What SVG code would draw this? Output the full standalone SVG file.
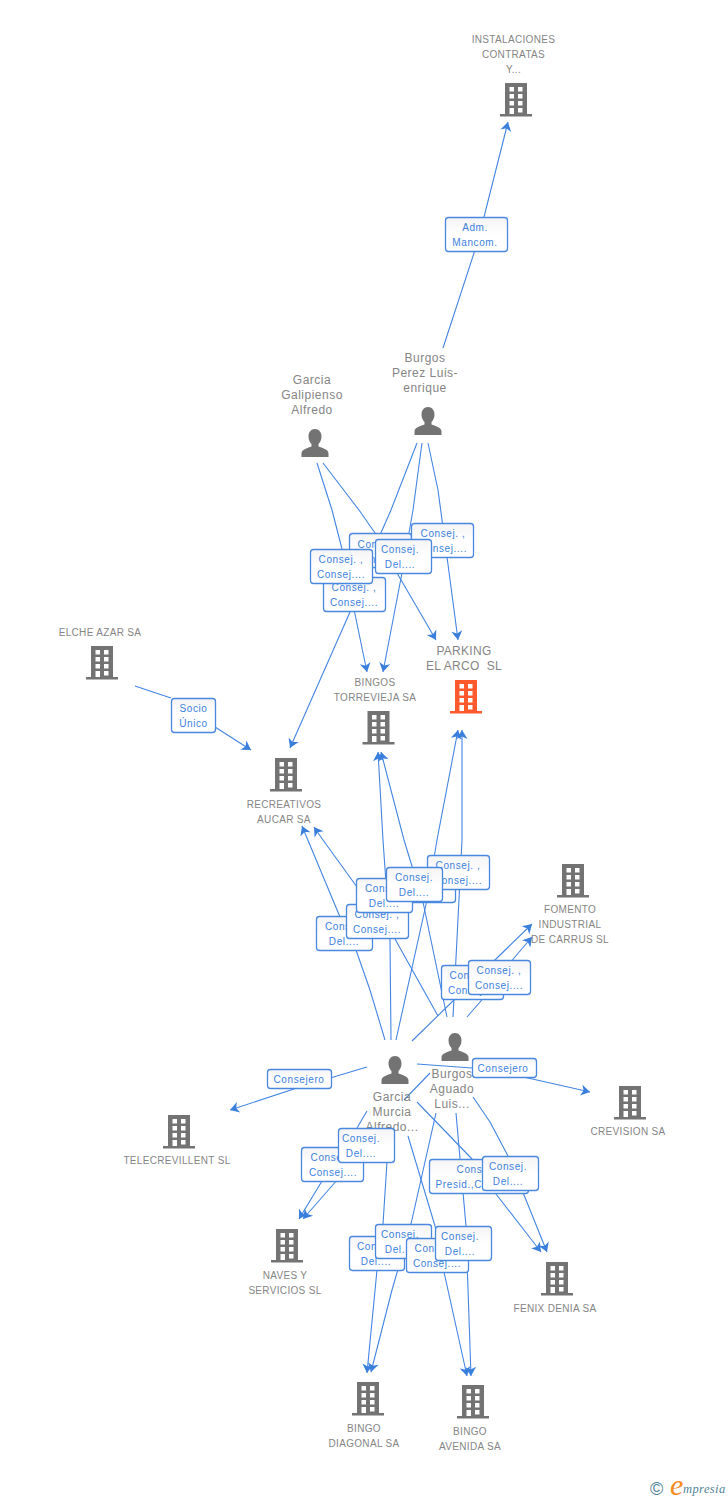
<svg xmlns="http://www.w3.org/2000/svg" width="728" height="1500" viewBox="0 0 728 1500">
<style>
text{font-family:"Liberation Sans",Arial,sans-serif}
.n{font-size:10px;fill:#858585;text-anchor:middle;letter-spacing:.33px}
.p{font-size:12px;fill:#858585;text-anchor:middle;letter-spacing:.5px}
.l{font-size:10px;fill:#3b7fdd;text-anchor:middle;letter-spacing:.6px}
.b{fill:url(#g);stroke:#4a88e0;stroke-width:1.3}
#connectors path{fill:none;stroke:#4485e2;stroke-width:1.1;stroke-linejoin:round;marker-end:url(#a)}
#connectors path.s{marker-end:none}
</style>
<defs>
<linearGradient id="g" x1="0" y1="0" x2="0" y2="1"><stop offset="0" stop-color="#f4f4f4"/><stop offset=".5" stop-color="#fff"/><stop offset="1" stop-color="#fff"/></linearGradient>
<marker id="a" markerUnits="userSpaceOnUse" markerWidth="12" markerHeight="12" viewBox="0 -6 10 12" refX="9" refY="0" orient="auto"><path d="M9 0L0-5.500 2.500 0 0 5.500Z" fill="#3b7fdd"/></marker>
<g id="bld"><path fill-rule="evenodd" d="M-11 0H11V32H-11ZM-6.500 4V8.500H-2V4ZM2 4V8.500H6.500V4ZM-6.500 11V15.500H-2V11ZM2 11V15.500H6.500V11ZM-6.500 18V22.500H-2V18ZM2 18V22.500H6.500V18ZM-6.500 25V32H-2V25ZM2 25V29.500H6.500V25Z"/><rect x="-16" y="31" width="32" height="2.500"/></g>
<path id="per" d="M0 0C4 0 6.500 3.200 6.500 7.500C6.500 11 5 13.500 3.500 15V17.500C7 19 13.500 20 13.500 24.500V28H-13.500V24.500C-13.500 20 -7 19 -3.500 17.500V15C-5 13.500 -6.500 11 -6.500 7.500C-6.500 3.200 -4 0 0 0Z"/>
</defs>
<rect width="728" height="1500" fill="#fff"/>
<g id="connectors">
<path d="M443 348L475 250L484 217L508 122"/>
<path class="s" d="M135 686L171 698"/><path d="M215 727L251 750"/>
<path d="M317 463L332 510L342 549L350 590L367 672"/>
<path d="M323 463L359 510L375 533L397 573L436 640"/>
<path d="M417 443L391 510L380 535L350 612L290 748"/>
<path d="M422 443L413 510L402 573L383 672"/>
<path d="M428 443L438 490L447 557L458 640"/>
<path d="M385 1040L370 990L356 950L340 917L302 826"/>
<path d="M391 1040L390 940L383 840L378 752"/>
<path d="M396 1040L427 900L437 840L458 730"/>
<path d="M412 1041L455 999L497 958L532 924"/>
<path d="M438 1016L395 939L357 887L323 840L314 827"/>
<path d="M447 1017L423 902L404 840L381 752"/>
<path d="M453 1017L462 840L462 730"/>
<path d="M467 1017L487 994L514 958L532 937"/>
<path d="M367 1067L300 1087L230 1110"/>
<path d="M417 1064L472 1068L528 1078L590 1092"/>
<path class="s" d="M430 1073L404 1100"/>
<path class="s" d="M367 1111L357 1128"/>
<path d="M322 1181L299 1219"/>
<path d="M352 1163L303 1219"/>
<path d="M387 1162L383 1224L377 1270L367 1373"/>
<path d="M408 1136L435 1226L444 1272L467 1376"/>
<path d="M436 1113L411 1224L392 1290L371 1372"/>
<path d="M456 1113L466 1226L467 1260L471 1376"/>
<path d="M417 1102L472 1159L496 1194L541 1252"/>
<path d="M473 1097L490 1122L508 1156L522 1190L547 1252"/>
</g>
<g fill="#737373">
<g id="n-instalaciones"><use href="#bld" x="516" y="83"/><text class="n"><tspan x="513.500" y="43">INSTALACIONES</tspan><tspan x="513.500" y="58">CONTRATAS</tspan><tspan x="513.500" y="73">Y...</tspan></text></g>
<g id="n-parking"><use href="#bld" x="466" y="680" fill="#ff5a2d"/><text class="p" style="letter-spacing:.3px"><tspan x="464" y="655">PARKING</tspan><tspan x="464" y="670">EL ARCO&#160; SL</tspan></text></g>
<g id="n-bingos-torrevieja"><use href="#bld" x="378.500" y="711"/><text class="n"><tspan x="375" y="686">BINGOS</tspan><tspan x="375" y="701">TORREVIEJA SA</tspan></text></g>
<g id="n-elche"><use href="#bld" x="102" y="646"/><text class="n" x="100" y="636">ELCHE AZAR SA</text></g>
<g id="n-recreativos"><use href="#bld" x="286" y="758"/><text class="n"><tspan x="284" y="808">RECREATIVOS</tspan><tspan x="284" y="823">AUCAR SA</tspan></text></g>
<g id="n-fomento"><use href="#bld" x="573" y="864"/><text class="n"><tspan x="570" y="913">FOMENTO</tspan><tspan x="570" y="928">INDUSTRIAL</tspan><tspan x="570" y="943">DE CARRUS SL</tspan></text></g>
<g id="n-crevision"><use href="#bld" x="630" y="1086"/><text class="n" x="628" y="1135">CREVISION SA</text></g>
<g id="n-telecrevillent"><use href="#bld" x="179" y="1115"/><text class="n" x="177" y="1164">TELECREVILLENT SL</text></g>
<g id="n-naves"><use href="#bld" x="287" y="1229"/><text class="n"><tspan x="285" y="1279">NAVES Y</tspan><tspan x="285" y="1294">SERVICIOS SL</tspan></text></g>
<g id="n-fenix"><use href="#bld" x="557" y="1262"/><text class="n" x="555" y="1312">FENIX DENIA SA</text></g>
<g id="n-diagonal"><use href="#bld" x="368" y="1382"/><text class="n"><tspan x="364" y="1432">BINGO</tspan><tspan x="364" y="1447">DIAGONAL SA</tspan></text></g>
<g id="n-avenida"><use href="#bld" x="473" y="1385"/><text class="n"><tspan x="470" y="1435">BINGO</tspan><tspan x="470" y="1450">AVENIDA SA</tspan></text></g>
<g id="n-galipienso"><use href="#per" x="315" y="429"/><text class="p"><tspan x="312" y="384">Garcia</tspan><tspan x="312" y="399">Galipienso</tspan><tspan x="312" y="414">Alfredo</tspan></text></g>
<g id="n-perez"><use href="#per" x="428" y="407"/><text class="p"><tspan x="425" y="362">Burgos</tspan><tspan x="425" y="377">Perez Luis-</tspan><tspan x="425" y="392">enrique</tspan></text></g>
<g id="n-murcia"><use href="#per" x="395" y="1056"/><text class="p"><tspan x="392" y="1101">Garcia</tspan><tspan x="392" y="1116">Murcia</tspan><tspan x="392" y="1131">Alfredo...</tspan></text></g>
<g id="n-aguado"><use href="#per" x="455" y="1033"/><text class="p"><tspan x="452" y="1078">Burgos</tspan><tspan x="452" y="1093">Aguado</tspan><tspan x="452" y="1108">Luis...</tspan></text></g>
</g>
<g id="edge-labels">
<g><rect class="b" x="445.500" y="217.500" width="62" height="34" rx="3"/><text class="l"><tspan x="475" y="231">Adm.</tspan><tspan x="475" y="246">Mancom.</tspan></text></g>
<g><rect class="b" x="171.500" y="698.500" width="44" height="34" rx="3"/><text class="l"><tspan x="193.500" y="712">Socio</tspan><tspan x="193.500" y="727">Único</tspan></text></g>
<g><rect class="b" x="349.500" y="533.500" width="62" height="34" rx="3"/><text class="l"><tspan x="380" y="548">Consej. ,</tspan><tspan x="380" y="563">Consej....</tspan></text></g>
<g><rect class="b" x="411.500" y="523.500" width="62" height="34" rx="3"/><text class="l"><tspan x="443" y="537">Consej. ,</tspan><tspan x="443" y="552">Consej....</tspan></text></g>
<g><rect class="b" x="375.500" y="539.500" width="56" height="34" rx="3"/><text class="l"><tspan x="400" y="553">Consej.</tspan><tspan x="400" y="568">Del....</tspan></text></g>
<g><rect class="b" x="323.500" y="577.500" width="62" height="34" rx="3"/><text class="l"><tspan x="354" y="591">Consej. ,</tspan><tspan x="354" y="606">Consej....</tspan></text></g>
<g><rect class="b" x="310.500" y="549.500" width="62" height="34" rx="3"/><text class="l"><tspan x="341" y="563">Consej. ,</tspan><tspan x="341" y="578">Consej....</tspan></text></g>
<g><rect class="b" x="393.500" y="868.500" width="62" height="34" rx="3"/></g>
<g><rect class="b" x="427.500" y="855.500" width="62" height="34" rx="3"/><text class="l"><tspan x="458" y="869">Consej. ,</tspan><tspan x="458" y="884">Consej....</tspan></text></g>
<g><rect class="b" x="316.500" y="916.500" width="56" height="34" rx="3"/><text class="l"><tspan x="344" y="930">Consej.</tspan><tspan x="344" y="945">Del....</tspan></text></g>
<g><rect class="b" x="346.500" y="904.500" width="62" height="34" rx="3"/><text class="l"><tspan x="377" y="918">Consej. ,</tspan><tspan x="377" y="933">Consej....</tspan></text></g>
<g><rect class="b" x="356.500" y="878.500" width="56" height="34" rx="3"/><text class="l"><tspan x="384" y="892">Consej.</tspan><tspan x="384" y="907">Del....</tspan></text></g>
<g><rect class="b" x="386.500" y="867.500" width="56" height="34" rx="3"/><text class="l"><tspan x="414" y="881">Consej.</tspan><tspan x="414" y="896">Del....</tspan></text></g>
<g><rect class="b" x="441.500" y="965.500" width="62" height="34" rx="3"/><text class="l"><tspan x="472" y="979">Consej. ,</tspan><tspan x="472" y="994">Consej....</tspan></text></g>
<g><rect class="b" x="468.500" y="960.500" width="62" height="34" rx="3"/><text class="l"><tspan x="499" y="974">Consej. ,</tspan><tspan x="499" y="989">Consej....</tspan></text></g>
<g><rect class="b" x="267.500" y="1069.500" width="64" height="19" rx="3"/><text class="l" x="299" y="1083">Consejero</text></g>
<g><rect class="b" x="472.500" y="1058.500" width="64" height="19" rx="3"/><text class="l" x="503" y="1072">Consejero</text></g>
<g><rect class="b" x="301.500" y="1147.500" width="62" height="34" rx="3"/><text class="l"><tspan x="333" y="1161">Consej. ,</tspan><tspan x="333" y="1176">Consej....</tspan></text></g>
<g><rect class="b" x="338.500" y="1128.500" width="56" height="34" rx="3"/><text class="l"><tspan x="361" y="1142">Consej.</tspan><tspan x="361" y="1157">Del....</tspan></text></g>
<g><rect class="b" x="429.500" y="1159.500" width="99" height="34" rx="3"/><text class="l"><tspan x="479" y="1173">Consej. ,</tspan><tspan x="479" y="1188">Presid.,Consej....</tspan></text></g>
<g><rect class="b" x="482.500" y="1156.500" width="56" height="34" rx="3"/><text class="l"><tspan x="508" y="1170">Consej.</tspan><tspan x="508" y="1185">Del....</tspan></text></g>
<g><rect class="b" x="349.500" y="1236.500" width="55" height="34" rx="3"/><text class="l"><tspan x="376" y="1250">Consej.</tspan><tspan x="376" y="1265">Del....</tspan></text></g>
<g><rect class="b" x="375.500" y="1224.500" width="56" height="34" rx="3"/><text class="l"><tspan x="400" y="1238">Consej.</tspan><tspan x="400" y="1253">Del....</tspan></text></g>
<g><rect class="b" x="406.500" y="1238.500" width="62" height="34" rx="3"/><text class="l"><tspan x="437" y="1252">Consej. ,</tspan><tspan x="437" y="1267">Consej....</tspan></text></g>
<g><rect class="b" x="435.500" y="1226.500" width="56" height="34" rx="3"/><text class="l"><tspan x="460" y="1240">Consej.</tspan><tspan x="460" y="1255">Del....</tspan></text></g>
</g>
<g id="logo">
<text x="650" y="1495" font-size="18" fill="#4f8296">©</text>
<text x="670" y="1495" font-size="30" font-style="italic" fill="#f58a1f" style="font-family:'Liberation Serif',serif">e</text>
<text x="683" y="1493" font-size="12.500" font-style="italic" fill="#4f8296" letter-spacing=".4" style="font-family:'Liberation Serif',serif">mpresia</text>
</g>
</svg>
